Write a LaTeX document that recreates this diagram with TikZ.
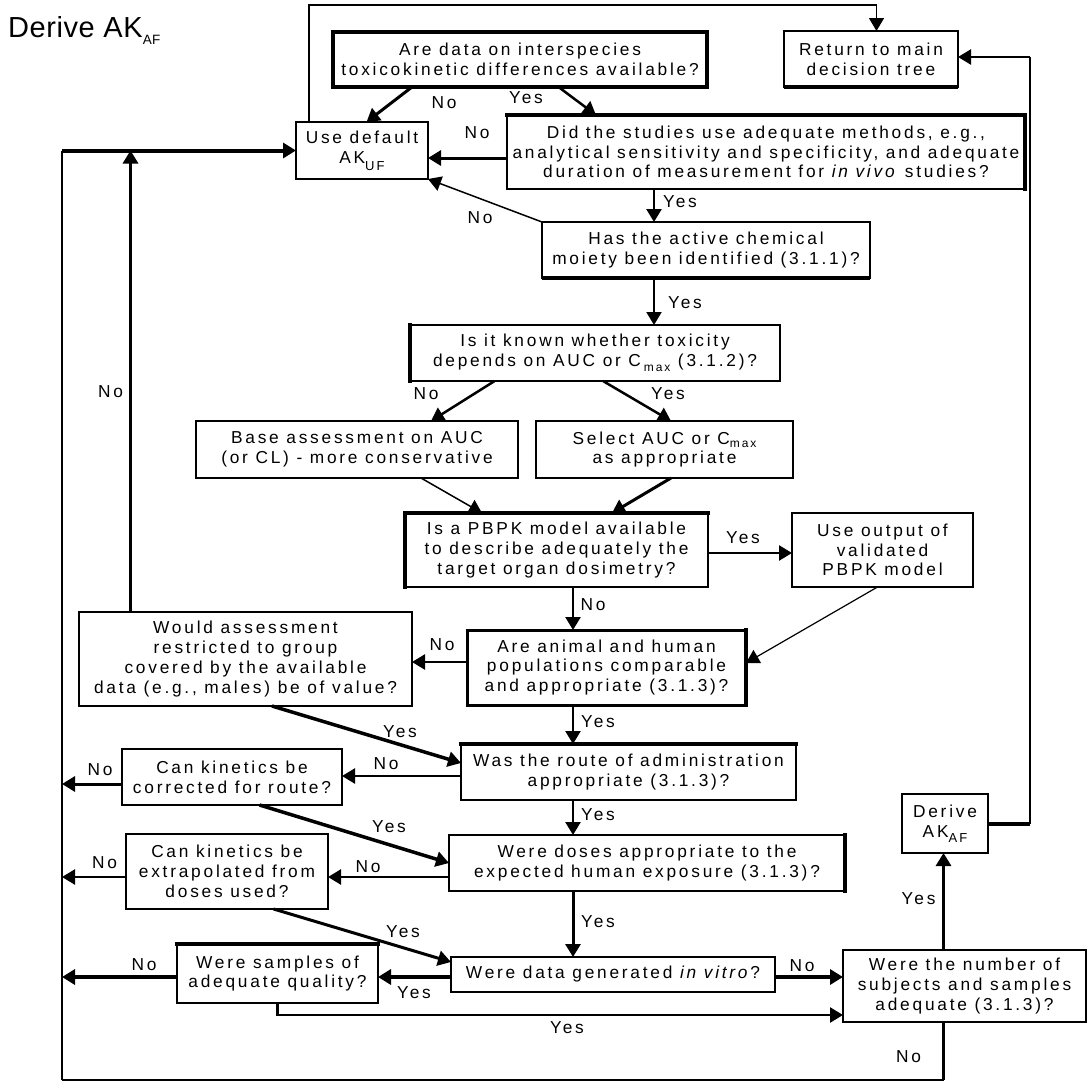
\documentclass[tikz,border=0pt]{standalone}
\usepackage{fontspec}
\setmainfont{Liberation Sans}
\newfontfamily\bxfont{Liberation Sans}[LetterSpace=16]
\newfontfamily\ttlfont{Liberation Sans}[LetterSpace=2]
\newcommand\lowsub[3][5pt]{\raisebox{-#1}{\fontsize{#2}{#2}\selectfont #3}}
\usetikzlibrary{arrows.meta}
\tikzset{
  box/.style={draw, rectangle, inner sep=0pt, outer sep=0pt, align=center,
    font=\bxfont\fontsize{17.3}{19.7}\selectfont, line width=2pt, fill=white},
  lbl/.style={font=\bxfont\fontsize{17.3}{19.7}\selectfont, inner sep=0pt},
  tip/.style={-{Triangle[length=13pt,width=15pt]}},
  lw/.style={line width=#1pt},
}
\begin{document}
\begin{tikzpicture}[x=1pt,y=-1pt]
\useasboundingbox (0,0) rectangle (1089,1082);
% title
\node[anchor=base west, inner sep=0pt, font=\ttlfont\fontsize{29}{32}\selectfont] (title) at (8,37)
  {Derive AK\lowsub[7pt]{13.5}{AF}};
% boxes
\node[box, lw=3.5, minimum width=374pt, minimum height=55pt] (adata) at (520,59.5)
  {Are data on interspecies\\toxicokinetic differences available?};
\node[box, lw=2.5, minimum width=174pt, minimum height=56pt] (ret) at (871,59)
  {Return to main\\decision tree};
\node[box, minimum width=132pt, minimum height=57pt] (use) at (362,150.5)
  {Use default\\AK\lowsub[7pt]{13}{UF}};
\node[box, minimum width=518pt, minimum height=74pt] (did) at (766,152)
  {Did the studies use adequate methods, e.g.,\\analytical sensitivity and specificity, and adequate\\duration of measurement for \textit{in vivo} studies?};
\node[box, lw=2.5, minimum width=328pt, minimum height=56pt] (has) at (706,250)
  {Has the active chemical\\moiety been identified (3.1.1)?};
\node[box, minimum width=370pt, minimum height=56pt] (isk) at (595,353)
  {Is it known whether toxicity\\depends on AUC or C\,\lowsub[5pt]{12}{max} (3.1.2)?};
\node[box, minimum width=322pt, minimum height=57pt] (base) at (357,449.5)
  {Base assessment on AUC\\(or CL) - more conservative};
\node[box, minimum width=257pt, minimum height=57pt] (sel) at (664.5,449.5)
  {Select AUC or C\lowsub[3pt]{12}{max}\\as appropriate};
\node[box, lw=2.5, minimum width=303pt, minimum height=74pt] (pbpk) at (556.5,550)
  {Is a PBPK model available\\to describe adequately the\\target organ dosimetry?};
\node[box, minimum width=181pt, minimum height=74pt] (uout) at (882.5,550)
  {Use output of\\validated\\PBPK model};
\node[box, lw=3, minimum width=279pt, minimum height=75pt] (animal) at (606.5,667.5)
  {Are animal and human\\populations comparable\\and appropriate (3.1.3)?};
\node[box, lw=2.5, minimum width=333pt, minimum height=94pt] (would) at (245.5,659)
  {Would assessment\\restricted to group\\covered by the available\\data (e.g., males) be of value?};
\node[box, lw=2.5, minimum width=335pt, minimum height=56pt] (was) at (628.5,772)
  {Was the route of administration\\appropriate (3.1.3)?};
\node[box, lw=2.5, minimum width=220pt, minimum height=56pt] (cor) at (232,777)
  {Can kinetics be\\corrected for route?};
\node[box, minimum width=396pt, minimum height=56pt] (dose) at (647,863)
  {Were doses appropriate to the\\expected human exposure (3.1.3)?};
\node[box, minimum width=202pt, minimum height=75pt] (ext) at (227,871.5)
  {Can kinetics be\\extrapolated from\\doses used?};
\node[box, lw=2.5, minimum width=324pt, minimum height=35pt] (wdata) at (613,974.5)
  {Were data generated \textit{in vitro}?};
\node[box, lw=2.5, minimum width=201pt, minimum height=59pt] (samp) at (277.5,973.5)
  {Were samples of\\adequate quality?};
\node[box, minimum width=243pt, minimum height=72pt] (wnum) at (964.5,986)
  {Were the number of\\subjects and samples\\adequate (3.1.3)?};
\node[box, lw=2.5, minimum width=86pt, minimum height=59pt] (der) at (945,823.5)
  {Derive\\AK\lowsub[5pt]{13}{AF}};
% heavier sides of some boxes
\draw[lw=3.5] (ret.south west) -- (ret.south east);
\draw[lw=3.5, line cap=rect] (did.north west) -- (did.north east) -- (did.south east);
\draw[lw=3.5] (has.south west) -- (has.south east);
\draw[lw=4, line cap=rect] (isk.north west) -- (isk.south west);
\draw[lw=3.5, line cap=rect] (pbpk.south west) -- (pbpk.north west) -- (pbpk.north east);
\draw[lw=3.5, line cap=rect] (animal.north east) -- (animal.south east);
\draw[lw=3.5, line cap=rect] (was.north west) -- (was.north east);
\draw[lw=3.5, line cap=rect] (dose.north east) -- (dose.south east);
\draw[lw=4, line cap=rect] (samp.north west) -- (samp.north east);
% helper coordinates for the outer lines
\coordinate (tc) at (876.5,5);
\coordinate (rc) at (1030,57);
\coordinate (bl) at (62,1080);
% connectors
\draw[tip, lw=1.5] ([xshift=-53pt]use.north) coordinate (a1) -- (a1 |- tc) -- (tc) -- (tc |- ret.north);
\draw[tip, lw=3] ([xshift=-108pt]adata.south) -- ([xshift=4.5pt]use.north);
\draw[tip, lw=2.5] ([xshift=38.5pt]adata.south) -- ([xshift=-170pt]did.north);
\draw[tip, lw=3] ([yshift=-6pt]did.west) coordinate (d1) -- (d1 -| use.east);
\draw[tip, lw=2.5] ([xshift=-112pt]did.south) coordinate (e1) -- (e1 |- has.north);
\draw[tip, lw=1.5] (has.north west) -- (use.south east);
\draw[tip, lw=2] ([xshift=-52pt]has.south) coordinate (g1) -- (g1 |- isk.north);
\draw[tip, lw=2.5] ([xshift=-100.4pt]isk.south) -- ([xshift=74pt]base.north);
\draw[tip, lw=2.5] ([xshift=8pt]isk.south) -- ([xshift=6.5pt]sel.north);
\draw[tip, lw=1.5] ([xshift=64pt]base.south) -- ([xshift=-74.5pt]pbpk.north);
\draw[tip, lw=3] ([xshift=6.5pt]sel.south) -- ([xshift=55.5pt]pbpk.north);
\draw[tip, lw=2.5] ([yshift=-3pt]pbpk.east) coordinate (l1) -- (l1 -| uout.west);
\draw[tip, lw=2.5] ([xshift=16.5pt]pbpk.south) coordinate (m1) -- (m1 |- animal.north);
\draw[tip, lw=1.2] ([xshift=-5pt]uout.south) -- ([yshift=4.5pt]animal.east);
\draw[tip, lw=2.5] ([yshift=5.5pt]animal.west) coordinate (o1) -- (o1 -| would.east);
\draw[tip, lw=3.5] ([xshift=-115pt]would.north) coordinate (p1) -- (p1 |- use.west);
\draw[lw=2] (bl) -- (bl |- use.west);
\draw[tip, lw=4] (bl |- use.west) -- (use.west);
\draw[tip, lw=2.5] ([xshift=-33.5pt]animal.south) coordinate (r1) -- (r1 |- was.north);
\draw[tip, lw=3.5] ([xshift=26.5pt]would.south) -- ([yshift=9pt]was.west);
\draw[tip, lw=2.5] ([yshift=-4pt]was.west) coordinate (t1) -- (t1 -| cor.east);
\draw[tip, lw=3] ([yshift=-7pt]cor.west) coordinate (u1) -- (u1 -| bl);
\draw[tip, lw=3.5] ([xshift=27.6pt]cor.south) -- (dose.west);
\draw[tip, lw=2.5] ([xshift=-55.5pt]was.south) coordinate (w1) -- (w1 |- dose.north);
\draw[tip, lw=2.5] ([yshift=-14pt]dose.west) coordinate (x1) -- (x1 -| ext.east);
\draw[tip, lw=2.5] ([yshift=-5.5pt]ext.west) coordinate (y1) -- (y1 -| bl);
\draw[tip, lw=3] ([xshift=46.6pt]ext.south) -- ([yshift=12.5pt]wdata.west);
\draw[tip, lw=3] ([xshift=-74pt]dose.south) coordinate (z1) -- (z1 |- wdata.north);
\draw[tip, lw=4] ([yshift=-2.5pt]wdata.east) coordinate (b1) -- (b1 -| wnum.west);
\draw[tip, lw=4] ([yshift=-2.5pt]wdata.west) coordinate (c1) -- (c1 -| samp.east);
\draw[tip, lw=4] ([yshift=-3.5pt]samp.west) coordinate (dd1) -- (dd1 -| bl);
\draw[tip, lw=2.5] (samp.south) -- ([yshift=-12pt]samp.south) coordinate (ee1) -- (ee1 -| wnum.west);
\draw[tip, lw=3] ([xshift=-21pt]wnum.north) coordinate (f1) -- (f1 |- der.south);
\draw[lw=3.5] ([xshift=-21pt]wnum.south) coordinate (g2) -- (g2 |- bl);
\draw[lw=2] (g2 |- bl) -- (bl);
\draw[lw=4] (der.east) -- (der.east -| rc);
\draw[lw=2] (der.east -| rc) -- (rc);
\draw[tip, lw=2.5] (rc) -- (rc -| ret.east);
% labels
\node[lbl] (l1) at (444,103) {No};
\node[lbl] (l2) at (526,98) {Yes};
\node[lbl] (l3) at (477,133) {No};
\node[lbl] (l4) at (680,202) {Yes};
\node[lbl] (l5) at (480,218) {No};
\node[lbl] (l6) at (685,303) {Yes};
\node[lbl] (l7) at (426,394) {No};
\node[lbl] (l8) at (668,394) {Yes};
\node[lbl] (l9) at (743,538) {Yes};
\node[lbl] (l10) at (593,605) {No};
\node[lbl] (l11) at (442,645) {No};
\node[lbl] (l12) at (110.5,392) {No};
\node[lbl] (l13) at (598,722) {Yes};
\node[lbl] (l14) at (400,732) {Yes};
\node[lbl] (l15) at (386,764) {No};
\node[lbl] (l16) at (100,770) {No};
\node[lbl] (l17) at (389,827) {Yes};
\node[lbl] (l18) at (598,815) {Yes};
\node[lbl] (l19) at (368,867) {No};
\node[lbl] (l20) at (104.5,863) {No};
\node[lbl] (l21) at (403,932) {Yes};
\node[lbl] (l22) at (598,922) {Yes};
\node[lbl] (l23) at (802,966) {No};
\node[lbl] (l24) at (414,993) {Yes};
\node[lbl] (l25) at (144,965) {No};
\node[lbl] (l26) at (567,1028) {Yes};
\node[lbl] (l27) at (918.6,899) {Yes};
\node[lbl] (l28) at (908.6,1057) {No};
\end{tikzpicture}
\end{document}
